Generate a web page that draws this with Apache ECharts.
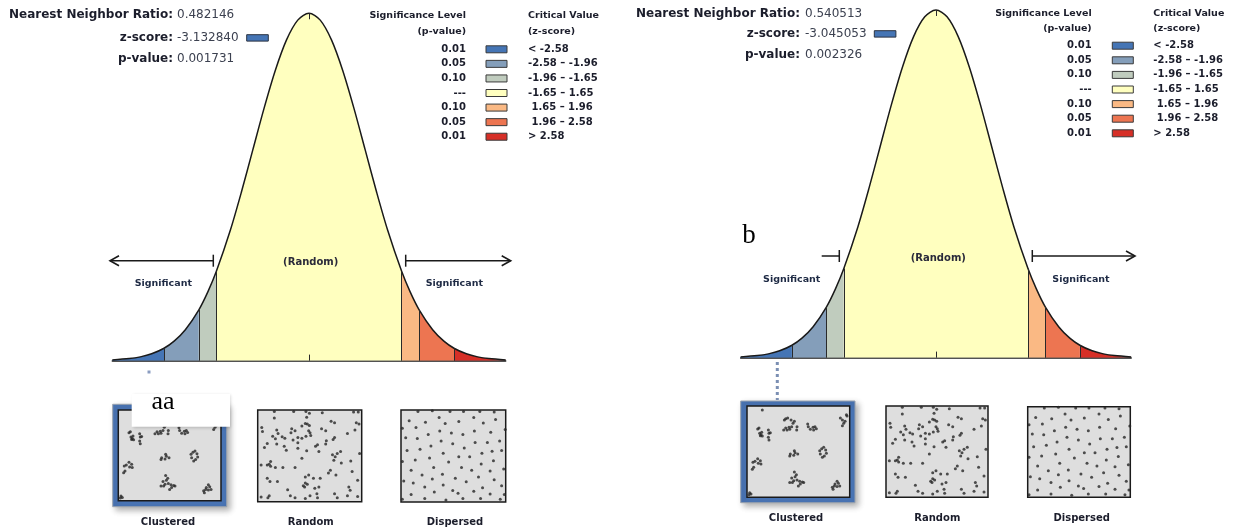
<!DOCTYPE html>
<html>
<head>
<meta charset="utf-8">
<title>Average Nearest Neighbor</title>
<script src="https://cdn.jsdelivr.net/npm/echarts@6/dist/echarts.min.js"></script>
<style>
  html, body { margin: 0; padding: 0; background: #fff; }
  #chart { width: 1234px; height: 531px; }
</style>
</head>
<body>
<div id="chart"></div>
<script>
// bell curve: z-score vs height
const curveZ = [-3.5, -3.2, -3.0, -2.8, -2.58, -2.4, -2.2, -1.96, -1.8, -1.65, -1.4, -1.2, -1.0, -0.8, -0.6, -0.4, -0.2, 0,
  0.2, 0.4, 0.6, 0.8, 1.0, 1.2, 1.4, 1.65, 1.8, 1.96, 2.2, 2.4, 2.58, 2.8, 3.0, 3.2, 3.5]
const curveY = [0.0009, 0.0024, 0.0044, 0.0079, 0.0143, 0.0224, 0.0355, 0.0584, 0.0790, 0.1023, 0.1497, 0.1942, 0.2420, 0.2897, 0.3332, 0.3683, 0.3910, 0.3989,
  0.3910, 0.3683, 0.3332, 0.2897, 0.2420, 0.1942, 0.1497, 0.1023, 0.0790, 0.0584, 0.0355, 0.0224, 0.0143, 0.0079, 0.0044, 0.0024, 0.0009]
const bandEdges = [-3.5, -2.58, -1.96, -1.65, 1.65, 1.96, 2.58, 3.5]
const bandColors = ['#4575b5', '#849eba', '#c0ccbe', '#ffffbf', '#fab984', '#ed7551', '#d62f27']
const sigLevels = ['0.01', '0.05', '0.10', '---', '0.10', '0.05', '0.01']
const critValues = ['< -2.58', '-2.58 – -1.96', '-1.96 – -1.65', '-1.65 – 1.65', ' 1.65 – 1.96', ' 1.96 – 2.58', '> 2.58']

const nnRatio = ['0.482146', '0.540513']
const zScore = ['-3.132840', '-3.045053']
const pValue = ['0.001731', '0.002326']
const patternNames = ['Clustered', 'Random', 'Dispersed']

// point patterns in the thumbnails (0-100 box units)
const clustered = [[14.9, 95.6],
  [10.4, 74.8], [11.7, 75.9], [12.3, 70.1], [13.6, 68.6], [14.9, 67.2], [13.0, 67.5], [14.3, 71.2], [20.8, 73.7], [21.4, 70.1], [22.7, 70.8], [20.8, 65.7], [21.4, 62.8],
  [36.4, 84.7], [37.7, 86.1], [39.6, 86.9], [42.9, 84.7], [46.1, 83.2], [44.8, 81.0], [40.9, 76.6], [37.7, 75.9], [35.7, 73.7], [39.0, 73.7], [41.6, 74.5], [43.5, 77.4], [48.4, 73.7], [48.7, 77.4],
  [59.1, 80.3], [59.7, 77.4], [61.7, 74.5], [64.3, 76.6], [66.2, 77.4], [67.5, 75.2], [64.9, 73.7],
  [90.9, 86.9], [92.9, 84.7], [94.2, 81.0], [95.5, 83.2], [96.8, 90.5], [97.4, 89.1], [92.9, 78.5],
  [41.6, 45.3], [42.2, 47.4], [46.1, 51.1], [46.8, 48.9], [49.4, 47.4], [45.5, 46.0],
  [70.8, 51.1], [72.7, 53.3], [74.7, 54.7], [76.6, 51.8], [77.3, 48.2], [75.3, 45.3], [73.4, 43.8], [71.4, 47.4],
  [5.8, 38.3], [7.8, 39.4], [10.4, 42.3], [13.0, 40.1], [13.6, 36.5], [6.5, 32.8], [5.2, 30.7], [11.0, 37.2],
  [46.1, 27.7], [48.1, 24.8], [46.8, 22.6], [43.5, 21.2], [45.5, 18.2], [41.6, 16.1], [44.2, 16.1], [48.7, 19.0], [51.3, 17.5], [53.9, 16.8], [51.9, 14.6], [50.0, 12.4], [55.2, 16.1],
  [83.1, 10.9], [83.8, 8.8], [85.7, 14.6], [87.7, 17.5], [89.0, 15.3], [90.3, 12.4], [87.7, 11.7], [85.1, 12.4],
  [2.6, 5.1], [3.9, 3.6], [1.9, 2.9]]
const random = [[16.0, 98.5], [34.6, 98.5], [46.4, 98.5], [49.7, 96.4], [62.1, 97.1], [92.2, 97.8], [96.7, 97.8],
  [16.0, 91.2], [47.1, 92.0], [45.8, 85.4], [47.7, 84.7], [49.7, 83.2], [70.6, 87.6], [73.9, 86.1], [94.8, 86.1], [97.4, 84.7],
  [3.9, 81.0], [4.6, 76.6], [18.3, 78.1], [19.6, 74.5], [32.7, 79.6], [35.9, 77.4], [32.0, 75.2], [42.5, 82.5], [49.0, 77.4], [50.3, 75.2], [61.4, 79.6], [65.4, 77.4], [93.5, 78.1], [86.3, 74.5],
  [14.4, 71.5], [17.0, 68.6], [23.5, 70.8], [26.1, 69.3], [34.0, 67.2], [38.6, 70.1], [42.5, 69.3], [46.4, 71.5], [51.0, 72.3], [66.0, 66.4], [73.9, 70.1], [72.5, 67.9],
  [9.2, 63.5], [6.5, 59.1], [18.3, 62.8], [25.5, 60.6], [27.5, 56.2], [38.6, 64.2], [38.6, 58.4], [55.6, 60.6], [57.5, 62.0], [65.4, 62.8], [47.1, 55.5], [58.8, 54.7],
  [76.5, 52.6], [79.7, 54.7], [71.9, 51.1], [74.5, 48.9], [73.2, 45.3], [80.4, 42.3], [89.5, 44.5], [98.0, 52.6], [42.5, 47.4],
  [12.4, 43.8], [11.1, 40.9], [3.3, 40.1], [9.2, 40.1], [12.4, 38.7], [17.0, 37.2], [24.2, 37.2], [35.9, 37.2], [69.9, 34.3], [68.0, 31.4], [75.2, 29.2], [90.8, 32.8],
  [49.0, 29.2], [45.8, 27.0], [53.6, 25.5], [60.1, 25.5], [96.1, 23.4], [9.2, 25.5], [11.8, 21.9], [19.0, 21.9],
  [45.8, 20.4], [47.7, 19.0], [43.8, 17.5], [45.1, 16.1], [54.9, 14.6], [58.8, 16.1], [28.8, 13.1], [87.6, 16.1], [88.9, 12.4],
  [3.3, 5.1], [9.8, 4.4], [11.1, 6.6], [31.4, 6.6], [35.9, 4.4], [45.8, 3.6], [50.3, 6.6], [56.9, 8.8], [57.5, 4.4], [73.9, 8.8], [76.5, 4.4], [86.3, 6.6], [96.1, 5.8]]
const dispersed = [[16.2, 98.5], [29.9, 99.3], [46.8, 98.5], [59.7, 98.5], [75.3, 98.5], [89.0, 97.8],
  [7.8, 88.2], [23.4, 86.8], [36.4, 91.9], [42.2, 85.3], [55.2, 87.5], [69.5, 91.9], [78.6, 86.0], [90.3, 89.7],
  [1.3, 80.1], [14.3, 80.9], [26.0, 73.5], [37.0, 77.2], [48.1, 75.0], [59.1, 73.5], [70.1, 77.2], [85.7, 75.7], [99.5, 78.7],
  [4.5, 69.9], [15.6, 69.1], [38.3, 66.2], [49.4, 63.2], [70.8, 64.7], [82.5, 64.7], [94.2, 66.2],
  [5.8, 55.9], [18.2, 57.4], [28.6, 61.0], [40.3, 52.9], [55.2, 49.3], [60.4, 58.8], [65.6, 49.3], [77.3, 52.9], [87.0, 55.1], [96.1, 55.9],
  [1.3, 44.1], [13.6, 45.6], [27.3, 47.8], [45.5, 43.4], [76.6, 41.2], [88.3, 44.9],
  [9.7, 34.6], [20.1, 29.4], [31.2, 37.5], [39.6, 30.1], [57.8, 37.5], [67.5, 34.6], [85.1, 33.8], [98.1, 36.0],
  [2.6, 22.8], [11.7, 20.6], [29.9, 25.0], [51.9, 25.7], [62.3, 22.1], [74.0, 27.2], [89.0, 24.3],
  [22.7, 16.2], [40.3, 18.4], [49.4, 12.5], [69.5, 11.8], [77.9, 15.4], [96.1, 17.6],
  [9.7, 8.1], [31.8, 11.0], [54.5, 9.6], [85.1, 8.8], [98.7, 8.1],
  [1.3, 2.9], [22.7, 3.7], [42.9, 2.2], [59.1, 3.7], [76.0, 3.7], [94.8, 2.9]]
const patterns = [clustered, random, dispersed]

// page layout of the two report panels
const panels = [
  {
    bell: { left: 112.3, top: 12.3, width: 393.4, height: 348.4 },
    head: { x: 173, x2: 177, y: [15.3, 37.7, 59.3], box: [246.7, 34.7] },
    legend: { px: 466, bx: 486, cx: 528, hy: [16, 32], y0: 49.3, dy: 14.57 },
    thumbs: [{ x: 118.3, y: 410, w: 102.7, h: 90.7 }, { x: 257.7, y: 410, w: 104, h: 91.7 }, { x: 401, y: 410, w: 104.7, h: 92 }],
    frame: { x: 112.7, y: 404.3, w: 114, h: 102.4 },
    labelY: 522.7, labelX: [168, 310.7, 455],
    arrowY: 260.7, leftArrow: [110, 213.3], leftHead: true, rightArrow: [405.7, 510.7],
    randomLbl: [310.7, 262.7], sigLbl: [[163.3, 283.3], [454.3, 283.3]],
  },
  {
    bell: { left: 740.6, top: 9, width: 390.6, height: 348.7 },
    head: { x: 800, x2: 805, y: [14, 34.3, 55], box: [874.3, 30.7] },
    legend: { px: 1091.7, bx: 1112.3, cx: 1153.3, hy: [14, 29], y0: 45.7, dy: 14.6 },
    thumbs: [{ x: 747, y: 406, w: 102.7, h: 91.3 }, { x: 886, y: 406, w: 102, h: 91.3 }, { x: 1027.7, y: 406.7, w: 102.6, h: 90.6 }],
    frame: { x: 740.7, y: 401, w: 114.3, h: 101.7 },
    labelY: 518, labelX: [796, 937.3, 1081.7],
    arrowY: 256, leftArrow: [821.7, 839.3], leftHead: false, rightArrow: [1032.3, 1135],
    randomLbl: [938.3, 258.3], sigLbl: [[791.7, 280], [1081, 280]],
  },
]

const F = '"DejaVu Sans", Verdana, sans-serif'
const SERIF = '"Liberation Serif", "Times New Roman", serif'
const INK = '#1b1d2b'

function txt(x, y, text, font, align, color) {
  return { type: 'text', x, y, silent: true, z: 10,
    style: { text, font, fill: color || INK, align: align || 'left', verticalAlign: 'middle' } }
}
function seg(x1, y1, x2, y2, color, width, dash) {
  return { type: 'line', silent: true, z: 10,
    shape: { x1, y1, x2, y2 }, style: { stroke: color || '#1a1a1a', lineWidth: width || 1.5, lineDash: dash || null } }
}
// open chevron arrow head
function head(tip, y, dir) {
  return { type: 'polyline', silent: true, z: 10,
    shape: { points: [[tip - dir * 9, y - 5], [tip, y], [tip - dir * 9, y + 5]] },
    style: { stroke: '#1a1a1a', lineWidth: 1.6, fill: null } }
}

const grids = []
const xAxes = []
const yAxes = []
const series = []
const graphics = []

const curvePts = curveZ.map((z, k) => [z, curveY[k]])
const heightAt = z => curveY[curveZ.indexOf(z)]

panels.forEach((p, i) => {
  // bell curve
  const g = grids.length
  grids.push({ left: p.bell.left, top: p.bell.top, width: p.bell.width, height: p.bell.height, outerBoundsMode: 'none' })
  xAxes.push({ gridIndex: g, type: 'value', min: -3.5, max: 3.5,
    axisLine: { show: true, lineStyle: { color: '#1a1a1a', width: 1.5 } },
    axisTick: { show: false }, axisLabel: { show: false }, splitLine: { show: false } })
  yAxes.push({ gridIndex: g, type: 'value', min: 0, max: 0.4, show: false, splitLine: { show: false } })

  bandColors.forEach((c, b) => {
    const lo = bandEdges[b]
    const hi = bandEdges[b + 1]
    series.push({ type: 'line', xAxisIndex: g, yAxisIndex: g, silent: true, z: 2,
      data: curvePts.filter(d => d[0] >= lo && d[0] <= hi),
      smooth: 0.3, symbol: 'none', lineStyle: { width: 0 }, areaStyle: { color: c, opacity: 1 } })
  })

  const dividers = bandEdges.slice(1, -1).map(z => [{ coord: [z, 0] }, { coord: [z, heightAt(z)] }])
  dividers.push([{ coord: [0, 0] }, { coord: [0, 0.007] }])
  dividers.push([{ coord: [0, 0.3989] }, { coord: [0, 0.392] }])
  series.push({ type: 'line', xAxisIndex: g, yAxisIndex: g, silent: true, z: 4,
    data: curvePts, smooth: 0.3, symbol: 'none', lineStyle: { color: '#1a1a1a', width: 1.5 },
    markLine: { silent: true, symbol: 'none', animation: false, label: { show: false },
      lineStyle: { color: '#2a2a2a', width: 1, type: 'solid' }, data: dividers } })

  // thumbnails
  p.thumbs.forEach((t, k) => {
    const tg = grids.length
    grids.push({ left: t.x, top: t.y, width: t.w, height: t.h, outerBoundsMode: 'none',
      show: true, backgroundColor: '#dedede', borderColor: '#1a1a1a', borderWidth: 1.5 })
    xAxes.push({ gridIndex: tg, type: 'value', min: 0, max: 100, show: false, splitLine: { show: false } })
    yAxes.push({ gridIndex: tg, type: 'value', min: 0, max: 100, show: false, splitLine: { show: false } })
    series.push({ type: 'scatter', xAxisIndex: tg, yAxisIndex: tg, silent: true, z: 3,
      data: patterns[k], symbolSize: 3, itemStyle: { color: '#262626' } })
    graphics.push(txt(p.labelX[k], p.labelY, patternNames[k], 'bold 10px ' + F, 'center'))
  })
  graphics.push({ type: 'rect', silent: true, z: -1,
    shape: { x: p.frame.x, y: p.frame.y, width: p.frame.w, height: p.frame.h },
    style: { fill: '#4a75b5', stroke: '#9aa3ae', lineWidth: 1,
      shadowBlur: 6, shadowOffsetX: 3, shadowOffsetY: 3, shadowColor: 'rgba(0,0,0,0.3)' } })

  // header
  const h = p.head
  graphics.push(txt(h.x, h.y[0], 'Nearest Neighbor Ratio:', 'bold 12px ' + F, 'right'))
  graphics.push(txt(h.x2, h.y[0], nnRatio[i], '12px ' + F, 'left', '#3c4150'))
  graphics.push(txt(h.x, h.y[1], 'z-score:', 'bold 12px ' + F, 'right'))
  graphics.push(txt(h.x2, h.y[1], zScore[i], '12px ' + F, 'left', '#3c4150'))
  graphics.push(txt(h.x, h.y[2], 'p-value:', 'bold 12px ' + F, 'right'))
  graphics.push(txt(h.x2, h.y[2], pValue[i], '12px ' + F, 'left', '#3c4150'))
  graphics.push({ type: 'rect', silent: true, z: 10,
    shape: { x: h.box[0], y: h.box[1], width: 21.6, height: 6.4 },
    style: { fill: bandColors[0], stroke: '#2a3340', lineWidth: 1 } })

  // legend table
  const L = p.legend
  const LF = 'bold 9.5px ' + F
  graphics.push(txt(L.px, L.hy[0], 'Significance Level', LF, 'right'))
  graphics.push(txt(L.px, L.hy[1], '(p-value)', LF, 'right'))
  graphics.push(txt(L.cx, L.hy[0], 'Critical Value', LF, 'left'))
  graphics.push(txt(L.cx, L.hy[1], '(z-score)', LF, 'left'))
  sigLevels.forEach((s, r) => {
    const y = L.y0 + r * L.dy
    graphics.push(txt(L.px, y, s, 'bold 10px ' + F, 'right'))
    graphics.push({ type: 'rect', silent: true, z: 10,
      shape: { x: L.bx, y: y - 3.5, width: 21, height: 7 },
      style: { fill: bandColors[r], stroke: '#3a3a3a', lineWidth: 1 } })
    graphics.push(txt(L.cx, y, critValues[r], 'bold 10px ' + F, 'left'))
  })

  // significance arrows and labels
  const ay = p.arrowY
  graphics.push(seg(p.leftArrow[0], ay, p.leftArrow[1], ay))
  graphics.push(seg(p.leftArrow[1], ay - 6, p.leftArrow[1], ay + 6))
  if (p.leftHead) graphics.push(head(p.leftArrow[0], ay, -1))
  graphics.push(seg(p.rightArrow[0], ay, p.rightArrow[1], ay))
  graphics.push(seg(p.rightArrow[0], ay - 6, p.rightArrow[0], ay + 6))
  graphics.push(head(p.rightArrow[1], ay, 1))
  graphics.push(txt(p.randomLbl[0], p.randomLbl[1], '(Random)', 'bold 10px ' + F, 'center', '#2a2a3a'))
  p.sigLbl.forEach(s => graphics.push(txt(s[0], s[1], 'Significant', 'bold 9.5px ' + F, 'center', '#1e2a44')))
})

// connector from the observed z-score down to the clustered pattern
graphics.push({ type: 'rect', silent: true, z: 10, shape: { x: 147.5, y: 370.5, width: 3, height: 3 }, style: { fill: '#8a9cc0' } })
graphics.push(seg(777.3, 362, 777.3, 400, '#7b8fb3', 3, [3, 3]))

// panel letters
graphics.push({ type: 'rect', silent: true, z: 100,
  shape: { x: 131.7, y: 394, width: 98.3, height: 32.7 },
  style: { fill: '#fff', shadowBlur: 3, shadowOffsetX: 1, shadowOffsetY: 1, shadowColor: 'rgba(0,0,0,0.18)' } })
graphics.push({ type: 'text', x: 151.5, y: 401.8, silent: true, z: 101,
  style: { text: 'aa', font: '26px ' + SERIF, fill: '#000', align: 'left', verticalAlign: 'middle' } })
graphics.push({ type: 'text', x: 742.3, y: 235.7, silent: true, z: 101,
  style: { text: 'b', font: '27px ' + SERIF, fill: '#000', align: 'left', verticalAlign: 'middle' } })

const myChart = echarts.init(document.getElementById('chart'), null, { renderer: 'canvas' })
myChart.setOption({
  animation: false,
  backgroundColor: '#ffffff',
  grid: grids,
  xAxis: xAxes,
  yAxis: yAxes,
  series,
  graphic: { elements: graphics },
})
window.addEventListener('resize', () => {
  myChart.resize()
})
</script>
</body>
</html>
